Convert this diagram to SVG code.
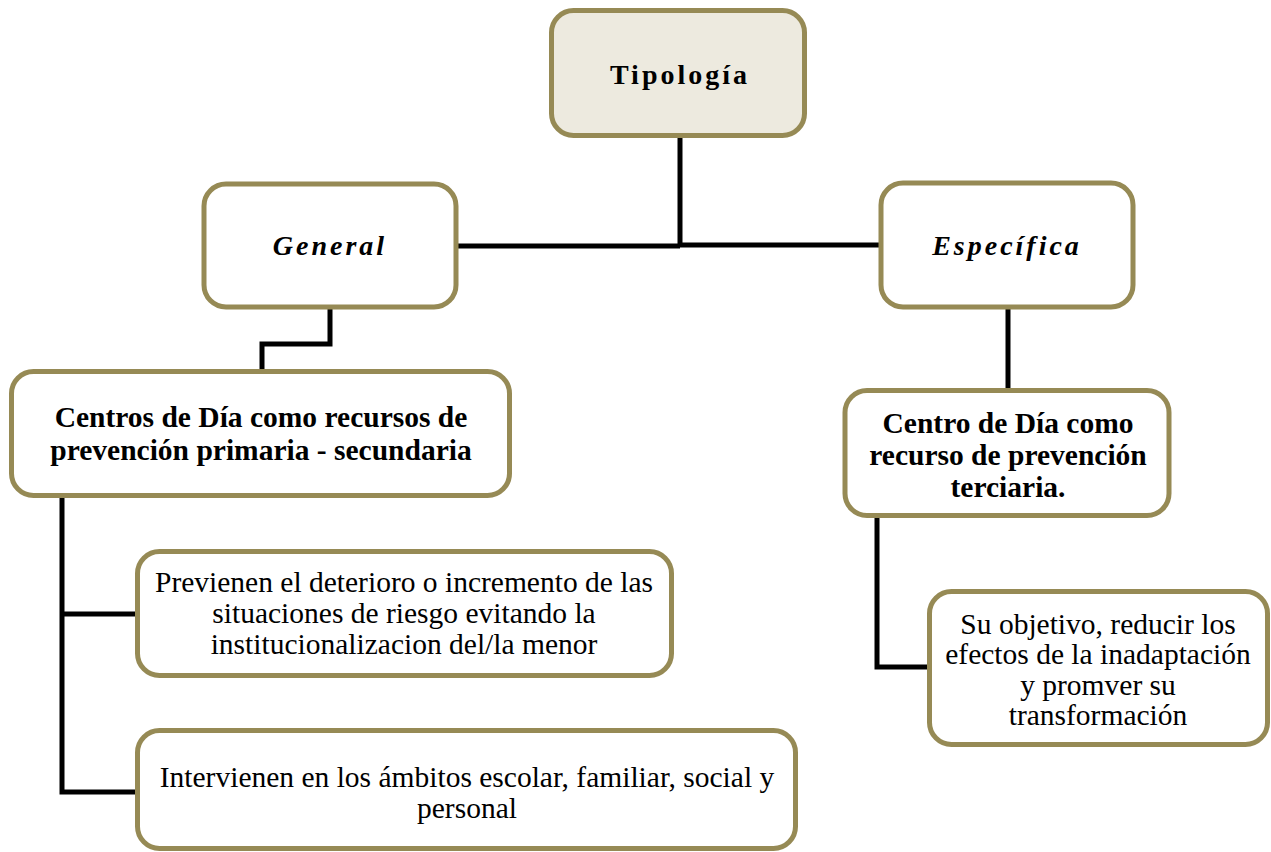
<svg xmlns="http://www.w3.org/2000/svg" width="1271" height="852" viewBox="0 0 1271 852">
<style>
.box{fill:#ffffff;stroke:#968A55;stroke-width:5}
.top{fill:#EDEADF}
.ln{fill:none;stroke:#000000;stroke-width:5;stroke-linejoin:miter}
text{font-family:"Liberation Serif","Times New Roman",serif;fill:#000;text-anchor:middle}
.b{font-weight:bold}
.h{font-size:28px;font-weight:bold;letter-spacing:3px}
.hi{font-style:italic}
.t29{font-size:29.5px}
.t28{font-size:29.5px}
</style>
<rect width="1271" height="852" fill="#ffffff"/>
<g id="connectors">
<path class="ln" d="M680,137 V245"/>
<path class="ln" d="M458,246 H680"/>
<path class="ln" d="M680,245 H880"/>
<path class="ln" d="M330,308 V344 H262 V370"/>
<path class="ln" d="M1008,308 V390"/>
<path class="ln" d="M62,497 V792 H136"/>
<path class="ln" d="M62,614 H136"/>
<path class="ln" d="M877,517 V667 H928"/>
</g>
<g id="tipologia">
<rect class="box top" x="551.5" y="10.5" width="253" height="125" rx="22"/>
<text class="h" x="680" y="84">Tipología</text>
</g>
<g id="general">
<rect class="box" x="204" y="184" width="252" height="123" rx="22"/>
<text class="h hi" x="330" y="255">General</text>
</g>
<g id="especifica">
<rect class="box" x="881" y="183" width="252" height="124" rx="22"/>
<text class="h hi" x="1007" y="255">Específica</text>
</g>
<g id="centros-primaria">
<rect class="box" x="11.5" y="371.5" width="498" height="124" rx="22"/>
<text class="b t29" x="261" y="427">Centros de Día como recursos de</text>
<text class="b t29" x="261" y="460">prevención primaria - secundaria</text>
</g>
<g id="centro-terciaria">
<rect class="box" x="845" y="390.5" width="324" height="125" rx="22"/>
<text class="b t29" x="1008" y="433">Centro de Día como</text>
<text class="b t29" x="1008" y="465">recurso de prevención</text>
<text class="b t29" x="1008" y="497">terciaria.</text>
</g>
<g id="previenen">
<rect class="box" x="137.5" y="551.5" width="534" height="124" rx="22"/>
<text class="t28" x="404" y="592">Previenen el deterioro o incremento de las</text>
<text class="t28" x="404" y="623">situaciones de riesgo evitando la</text>
<text class="t28" x="404" y="654">institucionalizacion del/la menor</text>
</g>
<g id="intervienen">
<rect class="box" x="137.5" y="730.5" width="658" height="118" rx="22"/>
<text class="t28" x="467" y="787">Intervienen en los ámbitos escolar, familiar, social y</text>
<text class="t28" x="467" y="818">personal</text>
</g>
<g id="objetivo">
<rect class="box" x="929.5" y="591.5" width="338" height="153" rx="22"/>
<text class="t28" x="1098" y="634">Su objetivo, reducir los</text>
<text class="t28" x="1098" y="664">efectos de la inadaptación</text>
<text class="t28" x="1098" y="695">y promver su</text>
<text class="t28" x="1098" y="725">transformación</text>
</g>
</svg>
